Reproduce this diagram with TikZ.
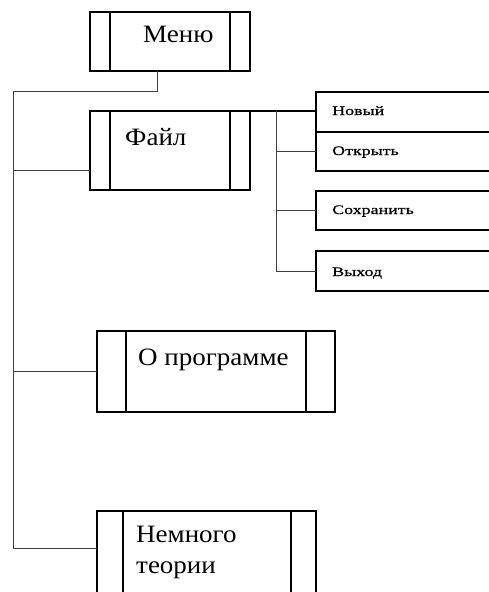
\documentclass[tikz,border=0pt]{standalone}
\usepackage{fontspec}
\setmainfont{Liberation Serif}
\newfontfamily\itemfont[FakeStretch=1.08]{Liberation Serif}
\newfontfamily\subitemfont[FakeStretch=1.38,FakeBold=0.6]{Liberation Serif}

\tikzset{
  mainbox/.style={draw=black, line width=1.2pt, inner sep=0pt, outer sep=0pt},
  openbox/.style={inner sep=0pt, outer sep=0pt},
  frame/.style={draw=black, line width=1.2pt},
  bar/.style={draw=black, line width=1.1pt},
  conn/.style={draw=black!75, line width=1pt},
  itemtext/.style={anchor=base west, inner sep=0pt, font=\itemfont\fontsize{25}{31}\selectfont},
  subtext/.style={anchor=base west, inner sep=0pt, font=\subitemfont\fontsize{13}{15}\selectfont},
}

\begin{document}
\begin{tikzpicture}[x=1pt, y=-1pt]
\useasboundingbox (0,0) rectangle (489,592);

% top-level menu boxes with side bars
\node[mainbox, minimum width=160pt, minimum height=59pt] (menu) at (170,41.5) {};
\draw[bar] ([xshift=20pt]menu.north west) -- ([xshift=20pt]menu.south west);
\draw[bar] ([xshift=-20pt]menu.north east) -- ([xshift=-20pt]menu.south east);
\node[itemtext] (menut) at (143,42) {Меню};

\node[mainbox, minimum width=160pt, minimum height=79pt] (file) at (170,150.5) {};
\draw[bar] ([xshift=20pt]file.north west) -- ([xshift=20pt]file.south west);
\draw[bar] ([xshift=-20pt]file.north east) -- ([xshift=-20pt]file.south east);
\node[itemtext] (filet) at (125,145) {Файл};

\node[mainbox, minimum width=238pt, minimum height=81pt] (about) at (216,371.5) {};
\draw[bar] ([xshift=29pt]about.north west) -- ([xshift=29pt]about.south west);
\draw[bar] ([xshift=-29pt]about.north east) -- ([xshift=-29pt]about.south east);
\node[itemtext] (aboutt) at (138,365) {О программе};

% last box runs past the lower edge
\node[openbox, minimum width=219pt, minimum height=81pt] (theory) at (206.5,551.5) {};
\draw[frame] (theory.south west) |- (theory.north east) -- (theory.south east);
\draw[bar] ([xshift=26pt]theory.north west) -- ([xshift=26pt]theory.south west);
\draw[bar] ([xshift=-25pt]theory.north east) -- ([xshift=-25pt]theory.south east);
\node[itemtext] (theoryt1) at (136,542) {Немного};
\node[itemtext] (theoryt2) at (136,573) {теории};

% submenu boxes, open on the right
\node[openbox, minimum width=173pt, minimum height=40pt] (new) at (402.5,112) {};
\node[openbox, minimum width=173pt, minimum height=39pt] (open) at (402.5,151.5) {};
\node[openbox, minimum width=173pt, minimum height=39pt] (save) at (402.5,210.5) {};
\node[openbox, minimum width=173pt, minimum height=40pt] (exit) at (402.5,271) {};
\foreach \b in {new,open,save,exit}
  \draw[frame] (\b.north east) -- (\b.north west) -- (\b.south west) -- (\b.south east);
\node[subtext] (newt) at (332,115) {Новый};
\node[subtext] (opent) at (332,155) {Открыть};
\node[subtext] (savet) at (332,214) {Сохранить};
\node[subtext] (exitt) at (332,276) {Выход};

% main trunk and branches
\coordinate (split) at (13,91);
\coordinate (filein) at ([yshift=-19.5pt]file.west);
\coordinate (theoryin) at ([yshift=3.5pt]theory.west);
\draw[conn] ([xshift=-13pt]menu.south) |- (split) |- (theoryin);
\draw[conn] (split |- filein) -- (filein);
\draw[conn] (split |- about.west) -- (about.west);

% file submenu connectors
\coordinate (fsplit) at (276,111);
\draw[frame] (file.north east) -- (file.north east -| new.west);
\draw[conn] (fsplit) |- (exit.west);
\draw[conn] (fsplit |- open.west) -- (open.west);
\draw[conn] (fsplit |- save.west) -- (save.west);
\end{tikzpicture}
\end{document}
